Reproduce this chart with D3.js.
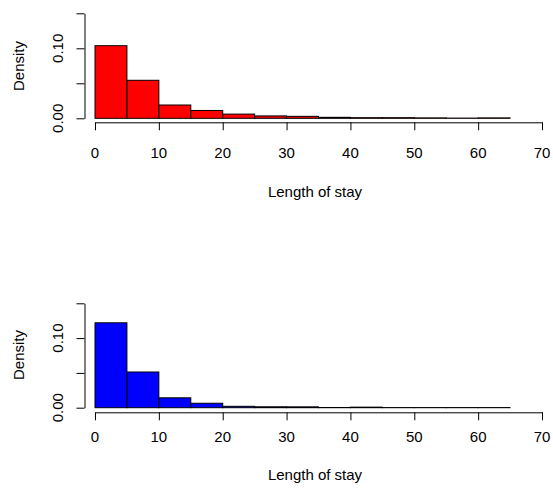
<!DOCTYPE html>
<html>
<head>
<meta charset="utf-8">
<script src="https://cdn.jsdelivr.net/npm/d3@7"></script>
<style>
  body { margin: 0; background: #fff; }
  svg { display: block; }
  text { font-family: "Liberation Sans", Arial, Helvetica, sans-serif; fill: #000; }
</style>
</head>
<body>
<svg id="chart" width="553" height="489"></svg>
<script>
// ---- data ----
const binEdges = [0, 5, 10, 15, 20, 25, 30, 35, 40, 45, 50, 55, 60, 65];
const densityTop = [0.1037, 0.0543, 0.019, 0.0112, 0.006, 0.0034, 0.0028, 0.0014, 0.0009, 0.0009, 0.0006, 0.0003, 0.0006];
const densityBottom = [0.122, 0.0513, 0.0142, 0.0064, 0.002, 0.0013, 0.0012, 0.0003, 0.0008, 0.0002, 0.0002, 0.0002, 0.0002];
const xTicks = [0, 10, 20, 30, 40, 50, 60, 70];
const yTicks = [0, 0.05, 0.10, 0.15];
const yTickLabels = ["0.00", "", "0.10", ""];
const xLabel = "Length of stay";
const yLabel = "Density";

const svg = d3.select("#chart");
const fontSize = 15;

function panel(values, fill, geom) {
  const g = svg.append("g");
  const x = d3.scaleLinear().domain([0, 70]).range([95, 542]);
  const y = d3.scaleLinear().domain([0, 0.15]).range([geom.y0, geom.y15]);

  // bars
  const bins = values.map((v, i) => ({ x0: binEdges[i], x1: binEdges[i + 1], v }));
  g.selectAll("rect.bar").data(bins).enter().append("rect")
    .attr("class", "bar")
    .attr("x", d => x(d.x0))
    .attr("y", d => y(d.v))
    .attr("width", d => x(d.x1) - x(d.x0))
    .attr("height", d => y(0) - y(d.v))
    .attr("fill", fill)
    .attr("stroke", "#000")
    .attr("stroke-width", 1);

  // x axis
  const xAxis = d3.axisBottom(x).tickValues(xTicks).tickSize(8).tickSizeOuter(0).tickFormat("");
  const gx = g.append("g").attr("transform", `translate(0,${geom.xAxisY})`).call(xAxis);
  gx.selectAll("path,line").attr("stroke", "#000").attr("stroke-width", 1);
  g.selectAll("text.xt").data(xTicks).enter().append("text")
    .attr("class", "xt")
    .attr("x", d => x(d))
    .attr("y", geom.xTickLabelY)
    .attr("text-anchor", "middle")
    .attr("dominant-baseline", "central")
    .attr("font-size", fontSize)
    .text(d => d3.format("d")(d));

  // y axis
  const yAxis = d3.axisLeft(y).tickValues(yTicks).tickSize(8).tickSizeOuter(0).tickFormat("");
  const gy = g.append("g").attr("transform", `translate(84.5,0)`).call(yAxis);
  gy.selectAll("path,line").attr("stroke", "#000").attr("stroke-width", 1);
  g.selectAll("text.yt").data(yTicks.map((t, i) => ({ t, label: yTickLabels[i] }))).enter()
    .append("text")
    .attr("class", "yt")
    .attr("transform", d => `translate(57,${y(d.t)}) rotate(-90)`)
    .attr("text-anchor", "middle")
    .attr("dominant-baseline", "central")
    .attr("font-size", fontSize)
    .text(d => d.label);

  // axis titles
  g.append("text")
    .attr("x", 315)
    .attr("y", geom.xLabelY)
    .attr("text-anchor", "middle")
    .attr("dominant-baseline", "central")
    .attr("font-size", fontSize)
    .text(xLabel);
  g.append("text")
    .attr("transform", `translate(18,${geom.yLabelY}) rotate(-90)`)
    .attr("text-anchor", "middle")
    .attr("dominant-baseline", "central")
    .attr("font-size", fontSize)
    .text(yLabel);
}

panel(densityTop, "#FF0000", { y0: 118.3, y15: 13.3, xAxisY: 122.3, xTickLabelY: 152, xLabelY: 191, yLabelY: 66 });
panel(densityBottom, "#0000FF", { y0: 407.7, y15: 303.3, xAxisY: 412.3, xTickLabelY: 436, xLabelY: 474, yLabelY: 355 });
</script>
</body>
</html>
